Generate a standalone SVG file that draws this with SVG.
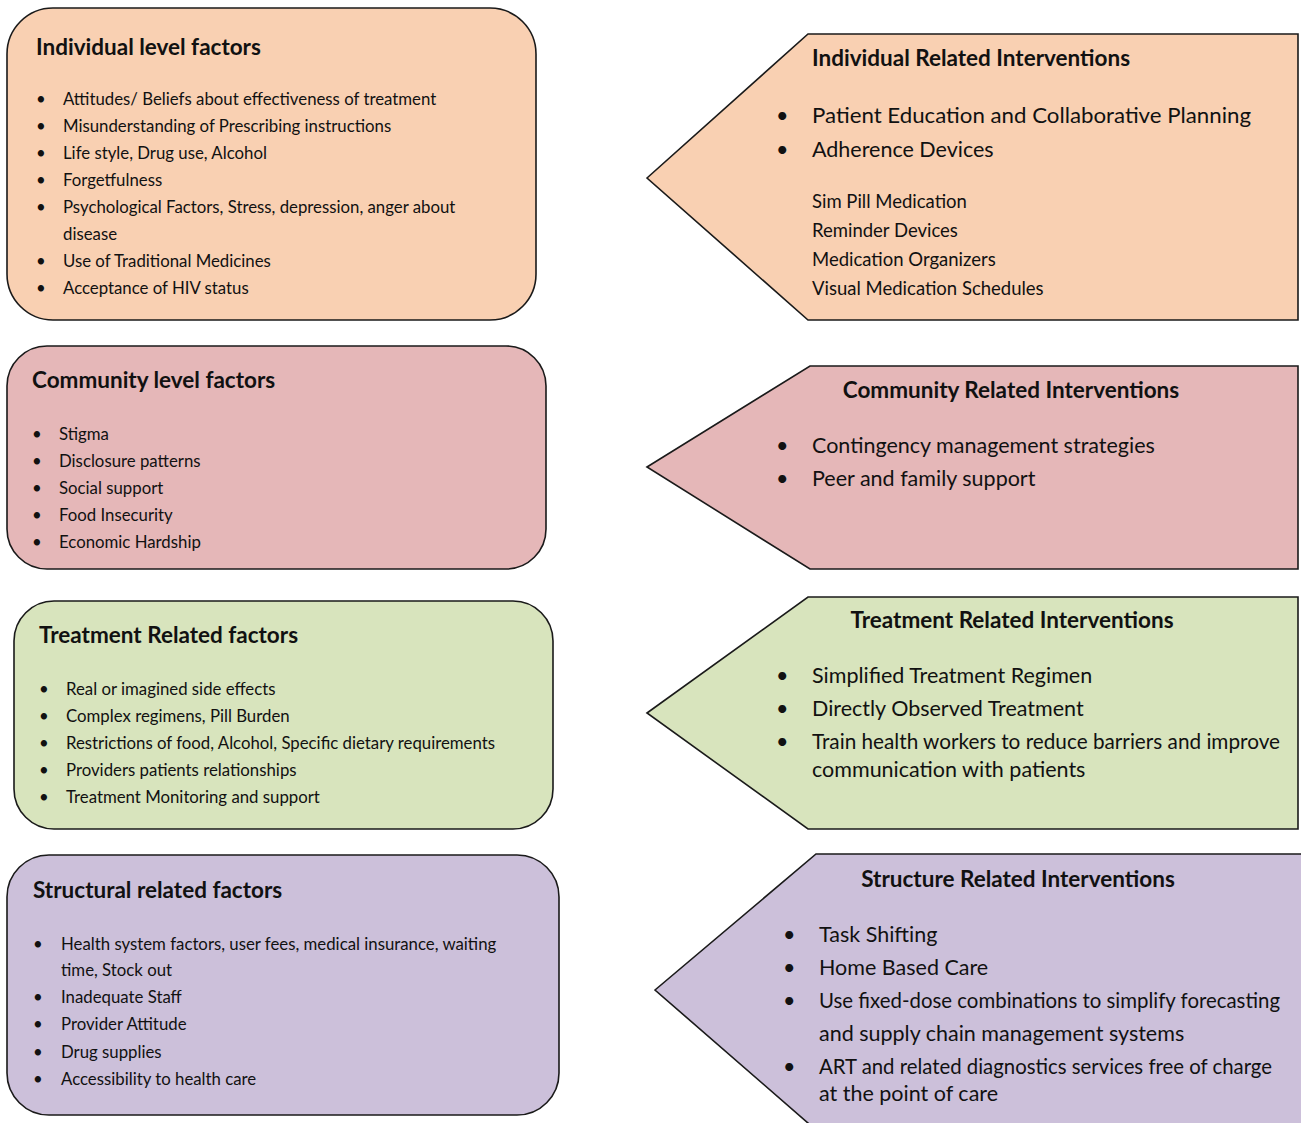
<svg xmlns="http://www.w3.org/2000/svg" width="1301" height="1123" viewBox="0 0 1301 1123">
<style>
.box{stroke:#1a1a1a;stroke-width:1.6}
.t{font-family:Lato,"Open Sans","Liberation Sans",sans-serif;font-weight:bold;font-size:22.5px;fill:#111}
.s{font-family:Lato,"Open Sans","Liberation Sans",sans-serif;font-size:16.8px;fill:#111}
.m{font-family:Lato,"Open Sans","Liberation Sans",sans-serif;font-size:21.5px;fill:#111}
.n{font-family:Lato,"Open Sans","Liberation Sans",sans-serif;font-size:18.5px;fill:#111}
.w{font-size:20.6px}
.c{text-anchor:middle}
.peach{fill:#F9D0B2}
.rose{fill:#E5B7B8}
.green{fill:#D8E4BD}
.lilac{fill:#CCC0DA}
</style>
<rect width="1301" height="1123" fill="#fff"/>
<g id="connectors"></g>

<g id="individual-factors">
<rect class="box peach" x="7" y="8" width="529" height="312" rx="46"/>
<text class="t" x="36" y="55">Individual level factors</text>
<g class="s">
<text x="36" y="105">•</text><text x="63" y="105">Attitudes/ Beliefs about effectiveness of treatment</text>
<text x="36" y="132">•</text><text x="63" y="132">Misunderstanding of Prescribing instructions</text>
<text x="36" y="159">•</text><text x="63" y="159">Life style, Drug use, Alcohol</text>
<text x="36" y="186">•</text><text x="63" y="186">Forgetfulness</text>
<text x="36" y="213">•</text><text x="63" y="213">Psychological Factors, Stress, depression, anger about</text>
<text x="63" y="240">disease</text>
<text x="36" y="267">•</text><text x="63" y="267">Use of Traditional Medicines</text>
<text x="36" y="294">•</text><text x="63" y="294">Acceptance of HIV status</text>
</g>
</g>

<g id="individual-interventions">
<polygon class="box peach" points="647,178 808,34 1298,34 1298,320 808,320"/>
<text class="t" x="812" y="66">Individual Related Interventions</text>
<g class="m">
<text x="776" y="123">•</text><text x="812" y="123" textLength="439" lengthAdjust="spacingAndGlyphs">Patient Education and Collaborative Planning</text>
<text x="776" y="157">•</text><text x="812" y="157">Adherence Devices</text>
</g>
<g class="n">
<text x="812" y="208">Sim Pill Medication</text>
<text x="812" y="237">Reminder Devices</text>
<text x="812" y="266">Medication Organizers</text>
<text x="812" y="295">Visual Medication Schedules</text>
</g>
</g>

<g id="community-factors">
<rect class="box rose" x="7" y="346" width="539" height="223" rx="40"/>
<text class="t" x="32" y="388">Community level factors</text>
<g class="s">
<text x="32" y="440">•</text><text x="59" y="440">Stigma</text>
<text x="32" y="467">•</text><text x="59" y="467">Disclosure patterns</text>
<text x="32" y="494">•</text><text x="59" y="494">Social support</text>
<text x="32" y="521">•</text><text x="59" y="521">Food Insecurity</text>
<text x="32" y="548">•</text><text x="59" y="548">Economic Hardship</text>
</g>
</g>

<g id="community-interventions">
<polygon class="box rose" points="647,467 810,366 1298,366 1298,569 810,569"/>
<text class="t c" x="1011" y="398">Community Related Interventions</text>
<g class="m">
<text x="776" y="453">•</text><text x="812" y="453">Contingency management strategies</text>
<text x="776" y="486">•</text><text x="812" y="486">Peer and family support</text>
</g>
</g>

<g id="treatment-factors">
<rect class="box green" x="14" y="601" width="539" height="228" rx="40"/>
<text class="t" x="39" y="643">Treatment Related factors</text>
<g class="s">
<text x="39" y="695">•</text><text x="66" y="695">Real or imagined side effects</text>
<text x="39" y="722">•</text><text x="66" y="722">Complex regimens, Pill Burden</text>
<text x="39" y="749">•</text><text x="66" y="749">Restrictions of food, Alcohol, Specific dietary requirements</text>
<text x="39" y="776">•</text><text x="66" y="776">Providers patients relationships</text>
<text x="39" y="803">•</text><text x="66" y="803">Treatment Monitoring and support</text>
</g>
</g>

<g id="treatment-interventions">
<polygon class="box green" points="647,713 808,597 1298,597 1298,829 808,829"/>
<text class="t c" x="1012" y="628">Treatment Related Interventions</text>
<g class="m">
<text x="776" y="683">•</text><text x="812" y="683">Simplified Treatment Regimen</text>
<text x="776" y="716">•</text><text x="812" y="716">Directly Observed Treatment</text>
<text x="776" y="749">•</text><text class="w" x="812" y="749" textLength="468" lengthAdjust="spacingAndGlyphs">Train health workers to reduce barriers and improve</text>
<text x="812" y="777">communication with patients</text>
</g>
</g>

<g id="structural-factors">
<rect class="box lilac" x="7" y="855" width="552" height="260" rx="42"/>
<text class="t" x="33" y="898">Structural related factors</text>
<g class="s">
<text x="33" y="950">•</text><text x="61" y="950">Health system factors, user fees, medical insurance, waiting</text>
<text x="61" y="976">time, Stock out</text>
<text x="33" y="1003">•</text><text x="61" y="1003">Inadequate Staff</text>
<text x="33" y="1030">•</text><text x="61" y="1030">Provider Attitude</text>
<text x="33" y="1058">•</text><text x="61" y="1058">Drug supplies</text>
<text x="33" y="1085">•</text><text x="61" y="1085">Accessibility to health care</text>
</g>
</g>

<g id="structure-interventions">
<polygon class="box lilac" points="655,990 816,854 1304,854 1304,1130 816,1130"/>
<text class="t c" x="1018" y="887">Structure Related Interventions</text>
<g class="m">
<text x="783" y="942">•</text><text x="819" y="942">Task Shifting</text>
<text x="783" y="975">•</text><text x="819" y="975">Home Based Care</text>
<text x="783" y="1008">•</text><text class="w" x="819" y="1008" textLength="461" lengthAdjust="spacingAndGlyphs">Use fixed-dose combinations to simplify forecasting</text>
<text x="819" y="1041">and supply chain management systems</text>
<text x="783" y="1074">•</text><text class="w" x="819" y="1074" textLength="453" lengthAdjust="spacingAndGlyphs">ART and related diagnostics services free of charge</text>
<text x="819" y="1101">at the point of care</text>
</g>
</g>
</svg>
